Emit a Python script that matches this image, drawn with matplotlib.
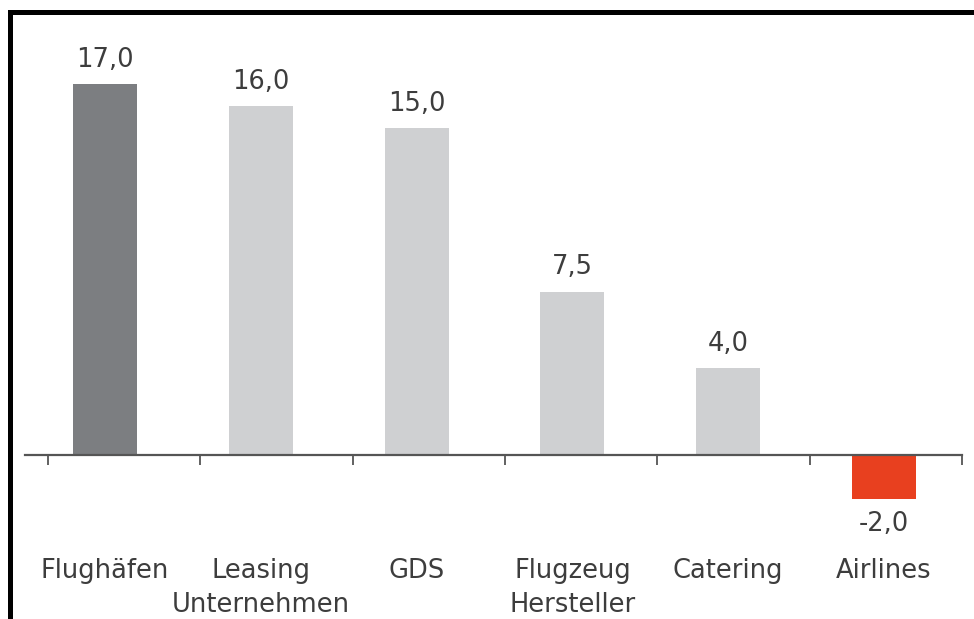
import matplotlib
matplotlib.use("Agg")
import matplotlib.pyplot as plt
import numpy as np

categories = ["Flughäfen", "Leasing\nUnternehmen", "GDS", "Flugzeug\nHersteller", "Catering", "Airlines"]
values = [17.0, 16.0, 15.0, 7.5, 4.0, -2.0]
value_labels = ["17,0", "16,0", "15,0", "7,5", "4,0", "-2,0"]
bar_colors = ["#7c7e81", "#cfd0d2", "#cfd0d2", "#cfd0d2", "#cfd0d2", "#e8401f"]

W, H, DPI = 974, 619, 100
fig = plt.figure(figsize=(W / DPI, H / DPI), dpi=DPI, facecolor="white")
ax = fig.add_axes([0, 0, 1, 1])
ax.set_facecolor("none")

# pixel-based layout of the category axis
x0_px, step_px = 105.0, 155.8
base_px, unit_px = 455.0, 21.8
ax.set_xlim(-x0_px / step_px, (W - x0_px) / step_px)
ax.set_ylim(-(H - base_px) / unit_px, base_px / unit_px)

x = np.arange(len(categories))
bar_w = 64 / step_px
ax.bar(x, values, width=bar_w, color=bar_colors, zorder=2)

text_color = "#3d3d3d"
font = "DejaVu Sans"
for xi, v, lab in zip(x, values, value_labels):
    if v >= 0:
        ax.annotate(lab, (xi, v), xytext=(0, 8), textcoords="offset points",
                    ha="center", va="bottom", fontsize=18.5, color=text_color, family=font)
    else:
        ax.annotate(lab, (xi, v), xytext=(0, -9), textcoords="offset points",
                    ha="center", va="top", fontsize=18.5, color=text_color, family=font)

# category labels below the axis
for xi, cat in zip(x, categories):
    ax.text(xi, -(558 - base_px) / unit_px, cat, ha="center", va="top",
            fontsize=18.5, color=text_color, family=font, linespacing=1.4,
            transform=ax.transData)

# baseline with downward ticks at the category boundaries
for s in ["top", "right", "left"]:
    ax.spines[s].set_visible(False)
ax.spines["bottom"].set_position(("data", 0))
ax.spines["bottom"].set_bounds((25 - x0_px) / step_px, (962 - x0_px) / step_px)
ax.spines["bottom"].set_color("#555555")
ax.spines["bottom"].set_linewidth(1.6)
ax.spines["bottom"].set_zorder(3)
tick_pos = np.linspace((48 - x0_px) / step_px, (962 - x0_px) / step_px, 7)
ax.set_xticks(tick_pos)
ax.set_xticklabels([])
ax.tick_params(axis="x", direction="out", length=7, width=1.3, color="#555555")
ax.set_yticks([])

# frame lines on the left and top edges
fig.add_artist(plt.Rectangle((8 / W, 0), 5 / W, (H - 10) / H, transform=fig.transFigure,
                             color="black", lw=0))
fig.add_artist(plt.Rectangle((8 / W, (H - 15) / H), (W - 8) / W, 5 / H, transform=fig.transFigure,
                             color="black", lw=0))

fig.savefig("out.png", dpi=DPI, facecolor="white")
